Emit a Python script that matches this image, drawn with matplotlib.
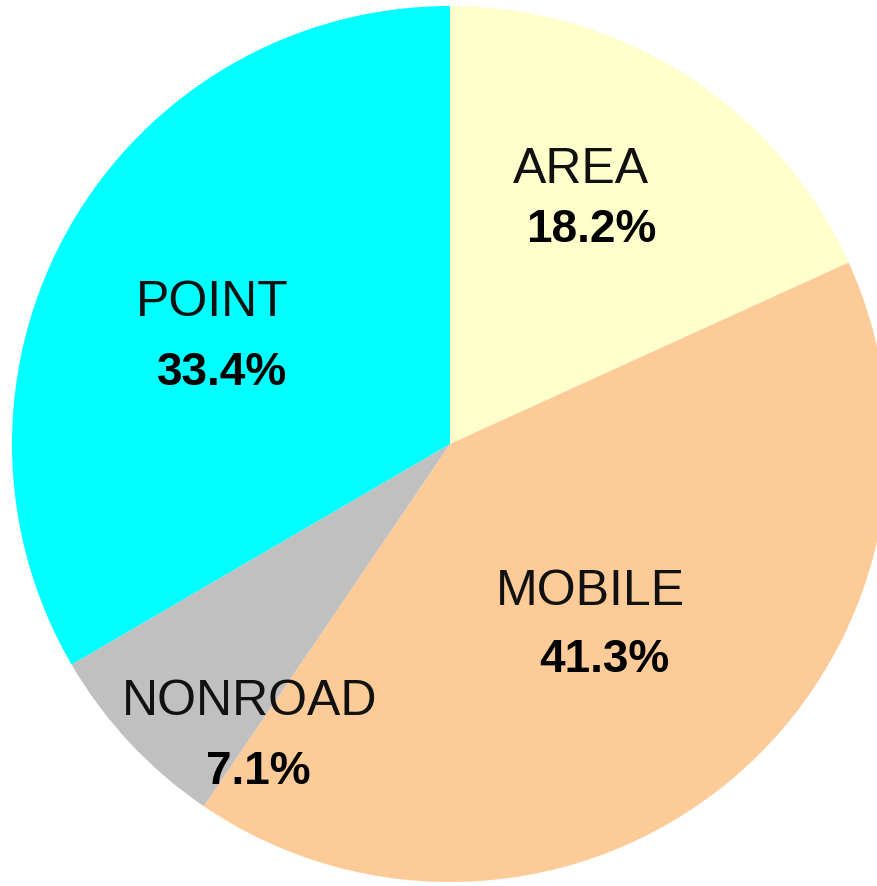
import matplotlib.pyplot as plt

# Данные
categories = ['AREA', 'MOBILE', 'NONROAD', 'POINT']
shares = [18.2, 41.3, 7.1, 33.4]
colors = ['#FFFFCC', '#FCCB98', '#C0C0C0', '#00FFFF']

# Позиции подписей (в пикселях картинки, y сверху)
name_pos = [(581, 170), (590, 592), (250, 702), (212, 303)]
pct_pos = [(591, 230), (604, 660), (258, 772), (222, 373)]

W, H = 878, 886

fig = plt.figure(figsize=(W / 100, H / 100), dpi=100)
ax = fig.add_axes([0, 0, 1, 1])
ax.set_xlim(0, W)
ax.set_ylim(H, 0)
ax.set_aspect('equal')
ax.axis('off')

# pie с перевёрнутой осью y: направление меняется, поэтому counterclock=True
ax.pie(shares, colors=colors, startangle=-90, counterclock=True,
       center=(450, 444), radius=438,
       wedgeprops={'linewidth': 0})
ax.set_xlim(0, W)
ax.set_ylim(H, 0)

for i, name in enumerate(categories):
    ax.text(name_pos[i][0], name_pos[i][1], name, ha='center', va='center',
            fontsize=36, family='Liberation Sans', color='#111111')
    ax.text(pct_pos[i][0], pct_pos[i][1], f'{shares[i]:.1f}%', ha='center', va='center',
            fontsize=33, family='Liberation Sans', fontweight='bold', color='black')

fig.savefig('out.png', dpi=100)
